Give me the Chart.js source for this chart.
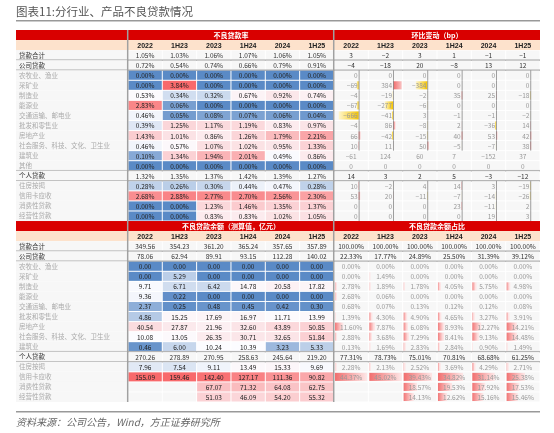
<!DOCTYPE html>
<html>
<head>
<meta charset="utf-8">
<script src="https://cdn.jsdelivr.net/npm/chart.js@4.4.0/dist/chart.umd.min.js"></script>
<style>
  html, body { margin: 0; padding: 0; background: #fff; }
  #wrap { width: 554px; height: 433px; position: relative; }
</style>
</head>
<body>
<div id="wrap"><canvas id="tableChart"></canvas></div>
<script>
const periods = ["2022", "1H23", "2023", "1H24", "2024", "1H25"];

const rateLabels = ["贷款合计", "公司贷款", "农牧业、渔业", "采矿业", "制造业", "能源业", "交通运输、邮电业",
  "批发和零售业", "房地产业", "社会服务、科技、文化、卫生业", "建筑业", "其他",
  "个人贷款", "住房按揭", "信用卡应收", "消费性贷款", "经营性贷款"];
const rateValues = [
  [1.05, 1.03, 1.06, 1.07, 1.06, 1.05],
  [0.72, 0.54, 0.74, 0.66, 0.79, 0.91],
  [0, 0, 0, 0, 0, 0],
  [0, 3.84, 0, 0, 0, 0],
  [0.53, 0.34, 0.32, 0.67, 0.92, 0.74],
  [2.83, 0.06, 0, 0, 0, 0],
  [0.46, 0.05, 0.08, 0.07, 0.06, 0.04],
  [0.39, 1.25, 1.17, 1.19, 0.83, 0.97],
  [1.43, 1.01, 0.86, 1.26, 1.79, 2.21],
  [0.46, 0.57, 1.07, 1.02, 0.95, 1.33],
  [0.10, 1.34, 1.94, 2.01, 0.49, 0.86],
  [0, 0, 0, 0, 0, 0],
  [1.32, 1.35, 1.37, 1.42, 1.39, 1.27],
  [0.28, 0.26, 0.30, 0.44, 0.47, 0.28],
  [2.68, 2.88, 2.77, 2.70, 2.56, 2.30],
  [0, 0, 1.23, 1.46, 1.35, 1.37],
  [0, 0, 0.83, 0.83, 1.02, 1.05]
];
const bpValues = [
  [3, -2, 3, 1, -1, -1],
  [-4, -18, 20, -8, 13, 12],
  [0, 0, 0, 0, 0, 0],
  [-69, 384, -384, 0, 0, 0],
  [-4, -19, -2, 35, 25, -18],
  [-67, -277, -6, 0, 0, 0],
  [-666, -41, 3, -1, -1, -2],
  [-4, 86, -8, 2, -36, 14],
  [66, -42, -15, 40, 53, 42],
  [10, 11, 50, -5, -7, 38],
  [-61, 124, 60, 7, -152, 37],
  [0, 0, 0, 0, 0, 0],
  [14, 3, 2, 5, -3, -12],
  [10, -2, 4, 14, 3, -19],
  [53, 20, -11, -7, -14, -26],
  [0, 0, 0, 23, -11, 2],
  [0, 0, 0, 0, 19, 3]
];

const balanceLabels = ["贷款合计", "公司贷款", "农牧业、渔业", "采矿业", "制造业", "能源业", "交通运输、邮电业",
  "批发和零售业", "房地产业", "社会服务、科技、文化、卫生业", "建筑业",
  "个人贷款", "住房按揭", "信用卡应收", "消费性贷款", "经营性贷款"];
const balanceValues = [
  [349.56, 354.23, 361.20, 365.24, 357.65, 357.89],
  [78.06, 62.94, 89.91, 93.15, 112.28, 140.02],
  [0, 0, 0, 0, 0, 0],
  [0, 5.29, 0, 0, 0, 0],
  [9.71, 6.71, 6.42, 14.78, 20.58, 17.82],
  [9.36, 0.22, 0, 0, 0, 0],
  [2.37, 0.25, 0.48, 0.45, 0.42, 0.30],
  [4.86, 15.25, 17.69, 16.97, 11.71, 13.99],
  [40.54, 27.87, 21.96, 32.60, 43.89, 50.85],
  [10.08, 13.05, 26.35, 30.71, 32.65, 51.84],
  [0.46, 6.00, 10.24, 10.39, 3.23, 5.33],
  [270.26, 278.89, 270.95, 258.63, 245.64, 219.20],
  [7.96, 7.54, 9.11, 13.49, 15.33, 9.69],
  [155.09, 159.46, 142.40, 127.17, 111.36, 90.82],
  [null, null, 67.07, 71.32, 64.08, 62.75],
  [null, null, 51.03, 46.09, 54.20, 55.32]
];
const shareValues = [
  [100, 100, 100, 100, 100, 100],
  [22.33, 17.77, 24.89, 25.50, 31.39, 39.12],
  [0, 0, 0, 0, 0, 0],
  [0, 1.49, 0, 0, 0, 0],
  [2.78, 1.89, 1.78, 4.05, 5.75, 4.98],
  [2.68, 0.06, 0, 0, 0, 0],
  [0.68, 0.07, 0.13, 0.12, 0.12, 0.08],
  [1.39, 4.30, 4.90, 4.65, 3.27, 3.91],
  [11.60, 7.87, 6.08, 8.93, 12.27, 14.21],
  [2.88, 3.68, 7.29, 8.41, 9.13, 14.48],
  [0.13, 1.69, 2.83, 2.84, 0.90, 1.49],
  [77.31, 78.73, 75.01, 70.81, 68.68, 61.25],
  [2.28, 2.13, 2.52, 3.69, 4.29, 2.71],
  [44.37, 45.02, 39.43, 34.82, 31.14, 25.38],
  [null, null, 18.57, 19.53, 17.92, 17.53],
  [null, null, 14.13, 12.62, 15.16, 15.46]
];

const summaryRows = ["贷款合计", "公司贷款", "个人贷款"];

// build row list for the y category axis
const rows = [];
rows.push({ kind: "title", left: "不良贷款率", right: "环比变动（bp）" });
rows.push({ kind: "head" });
rateLabels.forEach((l, i) => rows.push({ kind: "data", sec: 1, label: l, a: rateValues[i], b: bpValues[i] }));
rows.push({ kind: "title", left: "不良贷款余额（测算值，亿元）", right: "不良贷款余额占比" });
rows.push({ kind: "head" });
balanceLabels.forEach((l, i) => rows.push({ kind: "data", sec: 2, label: l, a: balanceValues[i], b: shareValues[i] }));

const LABEL_W = 3.26;
const CJK = '"Noto Sans CJK SC", sans-serif';

function heat(v, min, mid, max) {
  const blue = [90, 138, 198], white = [252, 252, 255], red = [248, 105, 107];
  let c0, c1, t;
  if (v <= mid) { c0 = blue; c1 = white; t = Math.pow((v - min) / (mid - min), 0.8); }
  else { c0 = white; c1 = red; t = (v - mid) / (max - mid); }
  t = Math.max(0, Math.min(1, t));
  return "rgb(" + c0.map((c, k) => Math.round(c + (c1[k] - c) * t)).join(",") + ")";
}

const tablePlugin = {
  id: "tablePlugin",
  afterDraw(chart) {
    const ctx = chart.ctx;
    const xs = chart.scales.x, ys = chart.scales.y;
    const band = (ys.bottom - ys.top) / rows.length;
    const colX = (j) => [xs.getPixelForValue(LABEL_W + j), xs.getPixelForValue(LABEL_W + j + 1)];
    const left = xs.getPixelForValue(0), right = xs.getPixelForValue(LABEL_W + 12);
    ctx.save();
    ctx.textBaseline = "middle";

    // figure title
    ctx.fillStyle = "#555";
    ctx.font = "11.5px " + CJK;
    ctx.textAlign = "left";
    ctx.fillText("图表11:分行业、产品不良贷款情况", left, 12);
    ctx.fillStyle = "#999";
    ctx.fillRect(left, 20, right - left, 1.5);

    rows.forEach((r, i) => {
      const yc = ys.getPixelForValue(i);
      const y0 = yc - band / 2;
      if (r.kind === "title") {
        ctx.fillStyle = "#d90000";
        ctx.fillRect(left, y0, right - left, band);
        ctx.fillStyle = "#fff";
        ctx.font = "bold 7px " + CJK;
        ctx.textAlign = "center";
        ctx.fillText(r.left, (colX(0)[0] + colX(5)[1]) / 2, yc);
        ctx.fillText(r.right, (colX(6)[0] + colX(11)[1]) / 2, yc);
        return;
      }
      if (r.kind === "head") {
        ctx.fillStyle = "#fde2cc";
        ctx.fillRect(left, y0, right - left, band);
        ctx.fillStyle = "#222";
        ctx.font = "bold 7px Arial, sans-serif";
        ctx.textAlign = "center";
        for (let j = 0; j < 12; j++) {
          const [a, b] = colX(j);
          ctx.fillText(periods[j % 6], (a + b) / 2, yc + 0.5);
        }
        return;
      }
      const isSum = summaryRows.includes(r.label);
      const colored = !isSum;
      // label cell
      ctx.fillStyle = "#f7f7f7";
      ctx.fillRect(left, y0, colX(0)[0] - left, band);
      ctx.fillStyle = isSum ? "#333" : "#aaa";
      ctx.font = "6.5px " + CJK;
      ctx.textAlign = "left";
      ctx.fillText(r.label, left + 3, yc);

      for (let j = 0; j < 12; j++) {
        const [a, b] = colX(j);
        const w = b - a;
        const leftHalf = j < 6;
        const v = leftHalf ? r.a[j] : r.b[j - 6];
        let bg = "#f7f7f7";
        if (leftHalf && colored && v !== null) {
          bg = r.sec === 1 ? heat(v, 0, 0.5, 3.4) : heat(v, 0, 10, 150);
        }
        ctx.fillStyle = bg;
        ctx.fillRect(a + 0.5, y0 + 0.5, w - 1, band - 1);
        if (v === null) continue;

        let txt, tx, align = "center";
        if (leftHalf) {
          txt = r.sec === 1 ? v.toFixed(2) + "%" : v.toFixed(2);
          tx = (a + b) / 2;
        } else if (r.sec === 1) {
          txt = v < 0 ? "−" + Math.abs(v) : String(v);
          const axisX = a + w * 0.72;
          const barRow = colored && r.label !== "建筑业" && r.label !== "其他";
          if (barRow) {
            const len = Math.min(Math.abs(v) * 0.03, axisX - a - 1);
            if (v < 0) {
              const g = ctx.createLinearGradient(axisX - len, 0, axisX, 0);
              g.addColorStop(0, "#fff6cc"); g.addColorStop(1, "#f5c400");
              ctx.fillStyle = g;
              ctx.fillRect(axisX - len, y0 + 1, len, band - 2);
            } else if (v > 0) {
              const g = ctx.createLinearGradient(axisX, 0, axisX + len, 0);
              g.addColorStop(0, "#f06a6a"); g.addColorStop(1, "#fde0e0");
              ctx.fillStyle = g;
              ctx.fillRect(axisX, y0 + 1, Math.min(len, b - axisX - 1), band - 2);
            }
            ctx.fillStyle = "#888";
            ctx.fillRect(axisX, y0, 0.8, band);
            align = "right";
            tx = axisX - 1;
          } else {
            tx = (a + b) / 2;
          }
        } else {
          txt = v.toFixed(2) + "%";
          tx = (a + b) / 2;
          if (colored) {
            const len = Math.min(v * 0.72, w - 1);
            if (len > 0) {
              const g = ctx.createLinearGradient(a, 0, a + len, 0);
              g.addColorStop(0, "#f06a6a"); g.addColorStop(1, "#fde4e4");
              ctx.fillStyle = g;
              ctx.fillRect(a + 1, y0 + 1, len, band - 2);
            }
          }
        }
        ctx.fillStyle = isSum ? "#333" : (leftHalf ? "#222" : "#999");
        ctx.font = "6.5px " + CJK;
        ctx.textAlign = align;
        ctx.fillText(txt, tx, yc + 0.5);
      }

      // separator lines
      const next = rows[i + 1];
      if (isSum || r.label === "其他" || (next && next.label === "个人贷款")) {
        ctx.fillStyle = "#b5b5b5";
        ctx.fillRect(left, y0 + band - 0.8, right - left, 1.6);
      }
    });

    // vertical dividers
    const top = ys.top, bot = ys.bottom;
    ctx.fillStyle = "#a0a0a0";
    ctx.fillRect(colX(0)[0] - 1, top, 1.5, bot - top);
    ctx.fillRect(colX(6)[0] - 1, top, 1.5, bot - top);

    // footer
    ctx.fillStyle = "#999";
    ctx.fillRect(left, bot + 9, right - left, 1.5);
    ctx.fillStyle = "#666";
    ctx.font = "italic 10px " + CJK;
    ctx.textAlign = "left";
    ctx.fillText("资料来源：公司公告，Wind，方正证券研究所", left, bot + 20);
    ctx.restore();
  }
};

new Chart(document.querySelector("#tableChart").getContext("2d"), {
  type: "scatter",
  data: { datasets: [{ data: [] }] },
  options: {
    responsive: true,
    maintainAspectRatio: false,
    animation: false,
    plugins: { legend: { display: false }, tooltip: { enabled: false } },
    layout: { padding: { left: 16, right: 14, top: 30, bottom: 31 } },
    scales: {
      x: { type: "linear", min: 0, max: LABEL_W + 12, display: false },
      y: { type: "category", labels: rows.map((r, i) => String(i)), offset: true, display: false }
    }
  },
  plugins: [tablePlugin]
});
</script>
</body>
</html>
